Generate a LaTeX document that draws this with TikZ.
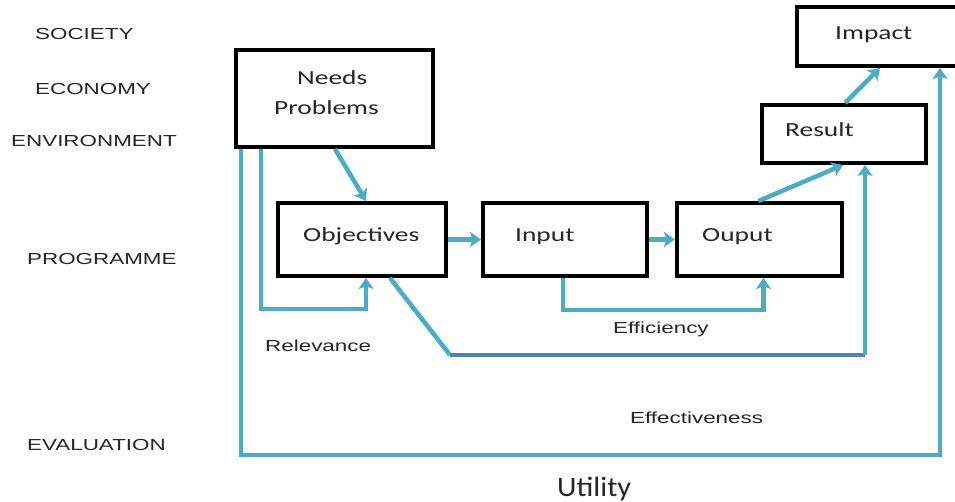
\documentclass[tikz,border=0pt]{standalone}
\usepackage{fontspec}
\usetikzlibrary{arrows.meta}
\newfontfamily\lblfont{Liberation Sans}[FakeStretch=1.4]
\newfontfamily\boxfont{Carlito}[FakeStretch=1.37]
\newfontfamily\utilfont{Carlito}[FakeStretch=1.08]
\definecolor{lblue}{HTML}{4BACC6}
\definecolor{dblue}{HTML}{4F81BD}
\definecolor{txt}{HTML}{262626}
\tikzset{
  box/.style={draw=black, line width=4pt, rectangle, inner sep=0pt, fill=white},
  boxtext/.style={anchor=base west, inner sep=0pt, font=\boxfont\fontsize{20}{24}\selectfont, text=txt},
  sidetext/.style={anchor=base west, inner sep=0pt, font=\lblfont\fontsize{16}{19}\selectfont, text=txt},
  conn/.style={draw=lblue, line width=4.5pt, -{Stealth[length=11pt,width=15pt,inset=2.5pt]}},
  plainconn/.style={draw=lblue, line width=4.5pt},
  darkconn/.style={draw=dblue, line width=4.5pt},
}
\begin{document}
\begin{tikzpicture}[x=1pt,y=-1pt]
\clip (0,0) rectangle (955,502);
\fill[white] (0,0) rectangle (955,502);

% boxes
\node[box, minimum width=197pt, minimum height=97pt] (needs) at (334.5,98.5) {};
\node[box, minimum width=168pt, minimum height=73pt] (obj) at (362,239.5) {};
\node[box, minimum width=164pt, minimum height=73pt] (input) at (565,239.5) {};
\node[box, minimum width=165pt, minimum height=73pt] (ouput) at (759.5,239.5) {};
\node[box, minimum width=164pt, minimum height=58pt] (result) at (844,134) {};
\node[box, minimum width=170pt, minimum height=59pt] (impact) at (882,36.5) {};

% box texts
\node[boxtext] (tneeds) at (297,85) {Needs};
\node[boxtext] (tprob) at (274,115) {Problems};
\node[boxtext] (tobj) at (303,241.5) {Objectives};
\node[boxtext] (tinput) at (515,241.5) {Input};
\node[boxtext] (touput) at (702,241.5) {Ouput};
\node[boxtext] (tresult) at (785,136.5) {Result};
\node[boxtext] (timpact) at (835,40) {Impact};

% side labels
\node[sidetext] (society) at (35,40) {SOCIETY};
\node[sidetext] (economy) at (35,95) {ECONOMY};
\node[sidetext] (environment) at (11,146.5) {ENVIRONMENT};
\node[sidetext] (programme) at (27,265) {PROGRAMME};
\node[sidetext] (evaluation) at (27,450) {EVALUATION};

% connector labels
\node[sidetext] (relevance) at (265,352) {Relevance};
\node[sidetext] (efficiency) at (613,334) {Efficiency};
\node[sidetext] (effectiveness) at (630,423) {Effectiveness};
\node[anchor=base west, inner sep=0pt, font=\utilfont\fontsize{28}{32}\selectfont, text=txt] (utility) at (557,496.5) {Utility};

% main flow
\draw[conn] ([xshift=0.5pt]needs.south) -- ([xshift=4pt]obj.north);
\draw[conn] (obj.east) -- (input.west);
\draw[conn] (input.east) -- (ouput.west);
\draw[conn] ([xshift=-1pt]ouput.north) -- ([xshift=-1pt]result.south);
\draw[conn] ([xshift=1pt]result.north) -- ([xshift=-2pt]impact.south);

% relevance
\draw[conn] ([xshift=27pt]needs.south west) -- ++(0,160) -| ([xshift=4pt]obj.south);
% utility (outer)
\draw[conn] ([xshift=7pt]needs.south west) -- ++(0,306) -| ([xshift=58pt]impact.south);
% efficiency
\draw[conn] ([xshift=-2pt]input.south) -- ++(0,32) -| ([xshift=4pt]ouput.south);
% effectiveness
\coordinate (e1) at (450,355);
\coordinate (e2) at (865,355);
\draw[plainconn] ([xshift=28pt]obj.south) -- (e1);
\draw[darkconn] (e1) -- (e2);
\draw[conn] (e2) -- ([xshift=21pt]result.south);
\end{tikzpicture}
\end{document}
